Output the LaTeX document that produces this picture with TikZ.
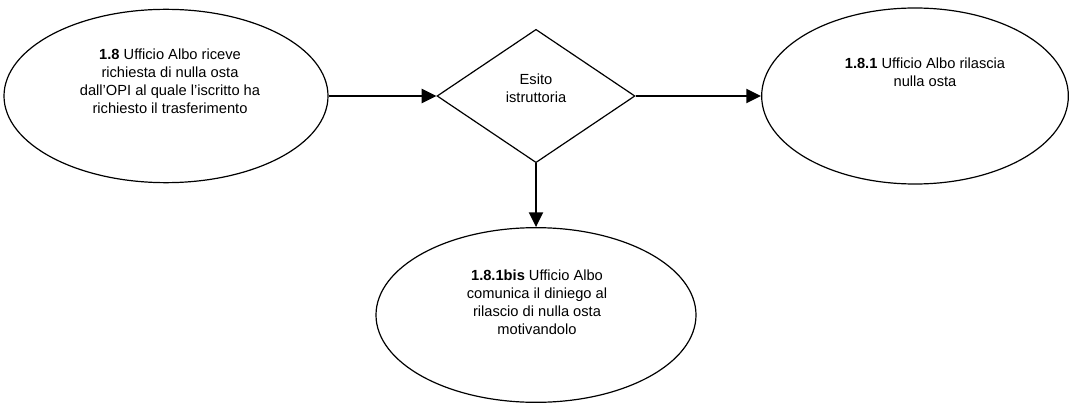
\documentclass[tikz,border=0pt]{standalone}
\usepackage{fontspec}
\setmainfont{Liberation Sans}
\usetikzlibrary{shapes.geometric,arrows.meta}
\begin{document}
\begin{tikzpicture}[x=0.75pt,y=-0.75pt,
  oval/.style={draw,ellipse,line width=0.9pt,inner sep=0pt},
  decision/.style={draw,diamond,line width=0.9pt,inner sep=0pt,minimum width=148.5pt,minimum height=100pt},
  lbl/.style={align=center,font=\fontsize{11}{13.6}\selectfont,inner sep=0pt},
  flow/.style={line width=1.5pt,-{Triangle[length=11pt,width=10.5pt]}}]
\useasboundingbox (0,0) rectangle (1073,406);
\node[oval,minimum width=243pt,minimum height=130pt] (e1) at (166,96) {};
\node[decision] (d) at (536,96) {};
\node[oval,minimum width=230pt,minimum height=132pt] (e2) at (915,96) {};
\node[oval,minimum width=240pt,minimum height=131pt] (e3) at (536,315) {};
\node[lbl] (t1) at (170,81) {\textbf{1.8} Ufficio Albo riceve\\richiesta di nulla osta\\dall’OPI al quale l’iscritto ha\\richiesto il trasferimento};
\node[lbl] (td) at (536,88) {Esito\\istruttoria};
\node[lbl] (t2) at (925,72) {\textbf{1.8.1} Ufficio Albo rilascia\\nulla osta};
\node[lbl] (t3) at (537,302) {\textbf{1.8.1bis} Ufficio Albo\\comunica il diniego al\\rilascio di nulla osta\\motivandolo};
\draw[flow] (e1.east) -- (d.west);
\draw[flow] (d.east) -- (e2.west);
\draw[flow] (d.south) -- (e3.north);
\end{tikzpicture}
\end{document}
